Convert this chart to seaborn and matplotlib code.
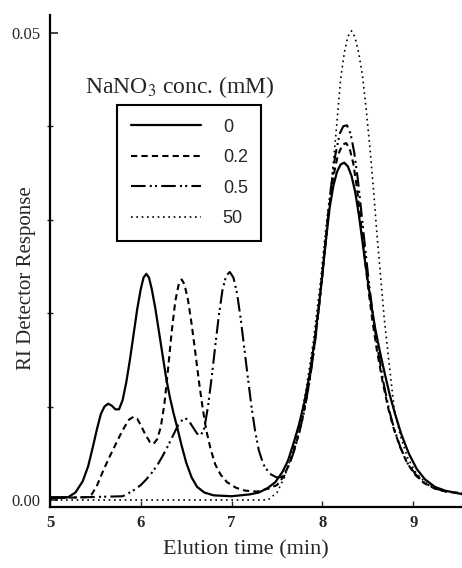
import numpy as np
import pandas as pd
import seaborn as sns
import matplotlib.pyplot as plt
from matplotlib.ticker import MultipleLocator

sns.set_style("ticks")
plt.rcParams['font.family'] = ['Liberation Serif', 'DejaVu Serif']
plt.rcParams['mathtext.fontset'] = 'stix'

# RI response (x = elution time, min)
t_0 = [5.00, 5.20, 5.28, 5.36, 5.42, 5.47, 5.52, 5.56, 5.60, 5.64, 5.68, 5.72, 5.76, 5.80,
       5.84, 5.88, 5.92, 5.96, 6.00, 6.03, 6.06, 6.09, 6.12, 6.16, 6.20, 6.24, 6.28, 6.32,
       6.36, 6.40, 6.45, 6.50, 6.56, 6.62, 6.70, 6.80, 7.00, 7.20, 7.30, 7.40, 7.48, 7.56,
       7.62, 7.68, 7.74, 7.80, 7.86, 7.92, 7.98, 8.04, 8.08, 8.12, 8.16, 8.20, 8.24, 8.28,
       8.32, 8.36, 8.40, 8.44, 8.48, 8.53, 8.58, 8.63, 8.68, 8.74, 8.80, 8.87, 8.95, 9.04,
       9.13, 9.24, 9.35, 9.45, 9.55]
y_0 = [0.0003, 0.0003, 0.0008, 0.0020, 0.0036, 0.0056, 0.0077, 0.0092, 0.0100, 0.0103,
       0.0101, 0.0097, 0.0097, 0.0107, 0.0126, 0.0150, 0.0177, 0.0204, 0.0226, 0.0238,
       0.0242, 0.0238, 0.0226, 0.0205, 0.0180, 0.0155, 0.0130, 0.0110, 0.0093, 0.0078,
       0.0058, 0.0040, 0.0024, 0.0014, 0.0008, 0.0005, 0.0004, 0.0006, 0.0008, 0.0013,
       0.0019, 0.0030, 0.0042, 0.0060, 0.0080, 0.0104, 0.0135, 0.0175, 0.0224, 0.0279,
       0.0313, 0.0336, 0.0351, 0.0359, 0.0361, 0.0357, 0.0347, 0.0330, 0.0306, 0.0277,
       0.0248, 0.0214, 0.0184, 0.0160, 0.0138, 0.0113, 0.0092, 0.0070, 0.0050, 0.0033,
       0.0022, 0.0014, 0.0010, 0.0008, 0.0006]

t_02 = [5.00, 5.40, 5.46, 5.52, 5.58, 5.64, 5.70, 5.76, 5.82, 5.87, 5.92, 5.96, 6.00, 6.05,
        6.10, 6.14, 6.18, 6.22, 6.26, 6.30, 6.34, 6.38, 6.42, 6.45, 6.48, 6.52, 6.56, 6.60,
        6.64, 6.68, 6.72, 6.77, 6.82, 6.88, 6.95, 7.05, 7.15, 7.28, 7.40, 7.50, 7.58, 7.66,
        7.72, 7.78, 7.84, 7.90, 7.96, 8.02, 8.07, 8.12, 8.17, 8.22, 8.26, 8.30, 8.34, 8.38,
        8.42, 8.46, 8.50, 8.55, 8.60, 8.66, 8.72, 8.78, 8.85, 8.93, 9.02, 9.12, 9.24, 9.36,
        9.46, 9.55]
y_02 = [0.0002, 0.0003, 0.0006, 0.0016, 0.0030, 0.0043, 0.0055, 0.0067, 0.0078, 0.0086,
        0.0089, 0.0087, 0.0080, 0.0070, 0.0062, 0.0060, 0.0065, 0.0078, 0.0103, 0.0140,
        0.0180, 0.0213, 0.0232, 0.0236, 0.0231, 0.0214, 0.0188, 0.0158, 0.0127, 0.0099,
        0.0075, 0.0054, 0.0038, 0.0027, 0.0019, 0.0013, 0.0010, 0.0009, 0.0012, 0.0016,
        0.0026, 0.0045, 0.0064, 0.0087, 0.0117, 0.0156, 0.0205, 0.0262, 0.0310, 0.0346,
        0.0369, 0.0380, 0.0382, 0.0376, 0.0360, 0.0334, 0.0300, 0.0264, 0.0230, 0.0192,
        0.0160, 0.0128, 0.0100, 0.0078, 0.0058, 0.0040, 0.0027, 0.0018, 0.0012, 0.0009,
        0.0008, 0.0007]

t_05 = [5.00, 5.80, 5.86, 5.93, 6.00, 6.06, 6.12, 6.18, 6.24, 6.30, 6.36, 6.41, 6.46, 6.50,
        6.54, 6.58, 6.62, 6.66, 6.70, 6.74, 6.78, 6.82, 6.86, 6.90, 6.94, 6.98, 7.02, 7.06,
        7.10, 7.14, 7.18, 7.22, 7.26, 7.30, 7.35, 7.42, 7.50, 7.56, 7.62, 7.68, 7.74, 7.80,
        7.86, 7.92, 7.98, 8.04, 8.09, 8.14, 8.19, 8.23, 8.27, 8.31, 8.35, 8.39, 8.43, 8.47,
        8.51, 8.56, 8.61, 8.67, 8.73, 8.79, 8.86, 8.94, 9.03, 9.13, 9.25, 9.37, 9.55]
y_05 = [0.0002, 0.0004, 0.0007, 0.0011, 0.0016, 0.0022, 0.0029, 0.0037, 0.0047, 0.0058,
        0.0070, 0.0080, 0.0086, 0.0087, 0.0083, 0.0077, 0.0071, 0.0069, 0.0077, 0.0100,
        0.0131, 0.0165, 0.0198, 0.0225, 0.0240, 0.0244, 0.0238, 0.0221, 0.0194, 0.0162,
        0.0130, 0.0099, 0.0073, 0.0053, 0.0038, 0.0028, 0.0024, 0.0025, 0.0035, 0.0050,
        0.0070, 0.0095, 0.0128, 0.0170, 0.0222, 0.0282, 0.0331, 0.0368, 0.0392, 0.0400,
        0.0401, 0.0392, 0.0372, 0.0343, 0.0307, 0.0270, 0.0234, 0.0195, 0.0161, 0.0127,
        0.0098, 0.0076, 0.0056, 0.0039, 0.0027, 0.0018, 0.0012, 0.0009, 0.0007]

t_50 = [5.00, 7.40, 7.50, 7.58, 7.66, 7.74, 7.82, 7.90, 7.98, 8.04, 8.10, 8.15, 8.20, 8.24,
        8.28, 8.32, 8.36, 8.40, 8.44, 8.48, 8.52, 8.56, 8.60, 8.64, 8.68, 8.73, 8.79, 8.86,
        8.94, 9.03, 9.13, 9.25, 9.37, 9.55]
y_50 = [0.0000, 0.0000, 0.0008, 0.0024, 0.0048, 0.0078, 0.0118, 0.0170, 0.0235, 0.0293,
        0.0340, 0.0393, 0.0450, 0.0478, 0.0496, 0.0502, 0.0495, 0.0478, 0.0455, 0.0420,
        0.0380, 0.0335, 0.0285, 0.0240, 0.0195, 0.0150, 0.0098, 0.0068, 0.0045, 0.0029,
        0.0019, 0.0012, 0.0009, 0.0007]

labels = ['0', '0.2', '0.5', '50']
styles = ['-', (0, (3, 2)), (0, (7, 2, 1, 1.5, 1, 2)), (0, (1, 2.2))]
widths = [1.6, 1.5, 1.5, 1.2]
series = [(t_0, y_0), (t_02, y_02), (t_05, y_05), (t_50, y_50)]

fig = plt.figure(figsize=(4.62, 5.68), dpi=100)
ax = fig.add_axes([50 / 462, 1 - 507 / 568, 412 / 462, 492 / 568])

for (t, y), lab, ls, lw in zip(series, labels, styles, widths):
    df = pd.DataFrame({'t': t, 'y': y})
    sns.lineplot(data=df, x='t', y='y', ax=ax, color='black', linestyle=ls,
                 linewidth=lw, label=lab)

ax.set_xlim(5.0, 9.537)
ax.set_ylim(-0.00075, 0.0519)
ax.set_xticks([5, 6, 7, 8, 9])
ax.set_xticklabels(['5', '6', '7', '8', '9'], fontweight='bold')
ax.set_yticks([0.0, 0.05])
ax.set_yticklabels(['0.00', '0.05'])
ax.yaxis.set_minor_locator(MultipleLocator(0.01))
ax.tick_params(axis='y', which='major', direction='in', length=6, width=1.2,
               labelsize=12, pad=7)
ax.tick_params(axis='y', which='minor', direction='inout', length=4, width=1)
ax.tick_params(axis='x', which='major', direction='in', length=4, width=1,
               labelsize=12, pad=6)

sns.despine(ax=ax)
for s in ['left', 'bottom']:
    ax.spines[s].set_linewidth(1.6)
    ax.spines[s].set_color('black')

ax.set_xlabel('Elution time (min)', fontsize=16)
ax.set_ylabel('RI Detector Response', fontsize=15)
ax.xaxis.set_label_coords(0.476, -0.067)
ax.yaxis.set_label_coords(-0.034, 0.465)

leg = ax.legend(loc='upper left', bbox_to_anchor=(0.163, 0.817), borderaxespad=0,
                frameon=True, fancybox=False, framealpha=1, edgecolor='black',
                handlelength=3.9, handletextpad=1.2, labelspacing=0.75, borderpad=0.75,
                prop={'family': 'Liberation Sans', 'size': 13})
leg.get_frame().set_linewidth(1.5)
ax.text(0.085, 0.854, r'NaNO$_3$ conc. (mM)', transform=ax.transAxes,
        fontsize=17, ha='left', va='center')

fig.savefig('out.png', dpi=100, facecolor='white')
